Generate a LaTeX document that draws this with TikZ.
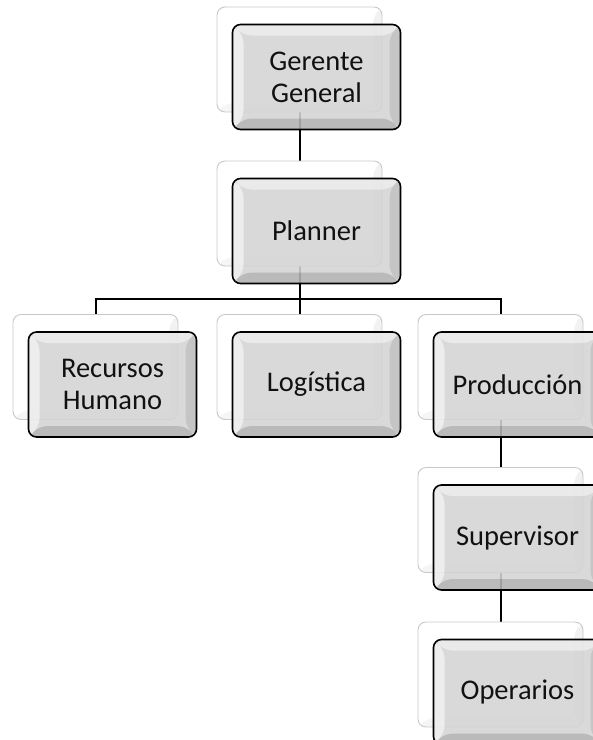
\documentclass[tikz,border=0pt]{standalone}
\usepackage{fontspec}
\setmainfont{Carlito}
\usetikzlibrary{calc,backgrounds}
\definecolor{boxgray}{HTML}{D4D4D4}
\definecolor{backline}{HTML}{C8C8C8}
\definecolor{txt}{HTML}{111111}
\tikzset{
  backbox/.style={draw=backline, line width=0.9pt, rounded corners=8pt, fill=white,
    minimum width=165pt, minimum height=105pt, inner sep=0pt,
    path picture={
      \coordinate (SW) at (path picture bounding box.south west);
      \coordinate (NE) at (path picture bounding box.north east);
      \coordinate (SE) at (SW -| NE);
      \coordinate (NW) at (SW |- NE);
      \fill[black,opacity=.05] (NE) -- (SE) -- ($(SE)+(-9pt,9pt)$) -- ($(NE)+(-9pt,-9pt)$) -- cycle;
      \fill[black,opacity=.04] (SW) -- (SE) -- ($(SE)+(-9pt,9pt)$) -- ($(SW)+(9pt,9pt)$) -- cycle;
    }},
  frontbox/.style={draw=black, line width=1.6pt, rounded corners=8pt, fill=boxgray, fill opacity=.88,
    text opacity=1, text=txt, align=center, font=\fontsize{28.5}{32}\selectfont,
    minimum width=168pt, minimum height=105pt, inner sep=0pt,
    path picture={
      \coordinate (SW) at (path picture bounding box.south west);
      \coordinate (NE) at (path picture bounding box.north east);
      \coordinate (SE) at (SW -| NE);
      \coordinate (NW) at (SW |- NE);
      \fill[white,opacity=.45] (NW) -- (NE) -- ($(NE)+(-11pt,-11pt)$) -- ($(NW)+(11pt,-11pt)$) -- cycle;
      \fill[white,opacity=.55] (NW) -- (SW) -- ($(SW)+(11pt,11pt)$) -- ($(NW)+(11pt,-11pt)$) -- cycle;
      \fill[black,opacity=.09] (NE) -- (SE) -- ($(SE)+(-11pt,11pt)$) -- ($(NE)+(-11pt,-11pt)$) -- cycle;
      \fill[black,opacity=.14] (SW) -- (SE) -- ($(SE)+(-11pt,11pt)$) -- ($(SW)+(11pt,11pt)$) -- cycle;
    }},
  conn/.style={draw=black, line width=2pt}
}
\begin{document}
\begin{tikzpicture}[x=1pt,y=-1pt]
\useasboundingbox (0,0) rectangle (593,740);
\clip (0,0) rectangle (593,740);
% back boxes
\node[backbox] (gB)  at (299.5,59.5) {};
\node[backbox] (pB)  at (299.5,213.5) {};
\node[backbox] (rB)  at (95.5,367) {};
\node[backbox] (lB)  at (299.5,367) {};
\node[backbox] (prB) at (500.5,367) {};
\node[backbox] (sB)  at (500.5,520) {};
\node[backbox] (oB)  at (500.5,674.5) {};
% front boxes
\node[frontbox] (g)  at (316.5,77)    {Gerente\\General};
\node[frontbox] (p)  at (316.5,231)   {Planner};
\node[frontbox] (r)  at (112.5,384.5) {Recursos\\Humano};
\node[frontbox] (l)  at (316.5,384.5) {Logística};
\node[frontbox] (pr) at (517.5,384.5) {Producción};
\node[frontbox] (s)  at (517.5,537.5) {Supervisor};
\node[frontbox] (o)  at (517.5,692)   {Operarios};
\coordinate (bus) at (299.5,299);
\begin{pgfonlayer}{background}
\draw[conn] (gB.south) -- (pB.north);
\draw[conn] (pB.south) -- (lB.north);
\draw[conn] (rB.north) |- (bus) -| (prB.north);
\draw[conn] (prB.south) -- (sB.north);
\draw[conn] (sB.south) -- (oB.north);
\end{pgfonlayer}
\end{tikzpicture}
\end{document}
